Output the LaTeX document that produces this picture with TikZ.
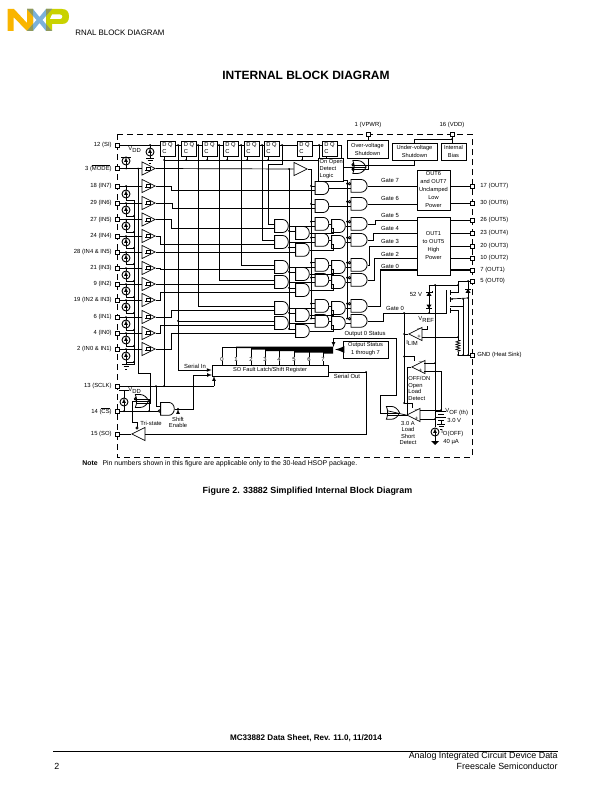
\documentclass[tikz,border=0pt]{standalone}
\usepackage{fontspec}
\setmainfont{Liberation Sans}
\usetikzlibrary{shapes.geometric,shapes.gates.logic.US,decorations.pathmorphing}
\definecolor{nxpyellow}{HTML}{F9B500}
\definecolor{nxpblue}{HTML}{7BB1DB}
\definecolor{nxpgreen}{HTML}{C9D200}
\definecolor{nxpolive}{HTML}{8F9A5A}
\tikzset{
    tiny5/.style={font=\fontsize{5.9}{8}\selectfont,inner sep=0pt},
    pin/.style={draw,fill=white,rectangle,minimum size=4pt,inner sep=0pt},
    block/.style={draw,rectangle,align=center,font=\fontsize{5.7}{8}\selectfont,inner sep=0pt},
    flop/.style={draw,rectangle,minimum size=15pt,inner sep=0pt,align=left,font=\fontsize{5.8}{7}\selectfont},
    andg/.style={and gate US,draw,logic gate inputs=nn,logic gate input sep=4.3pt,logic gate inverted radius=1.2pt,inner sep=0pt,line width=.8pt,xscale=.85,transform shape},
    andb/.style={andg,logic gate inputs=in,xscale=1.18},
    org/.style={or gate US,draw,shape border rotate=180,logic gate input sep=4.3pt,logic gate inverted radius=1.2pt,inner sep=0pt,line width=.8pt,xscale=.75,transform shape},
    isrc/.style={circle,draw,line width=.9pt,minimum size=8pt,inner sep=0pt,fill=white,
        path picture={\draw[-latex,line width=.7pt] (path picture bounding box.south) -- (path picture bounding box.north);}},
    tribuf/.style={isosceles triangle,isosceles triangle stretches,draw,minimum height=13pt,minimum width=13pt,inner sep=0pt,anchor=apex,line width=.7pt},
    inbuf/.style={tribuf,
        path picture={\draw[line width=.4pt] ([shift={(-3.5,1.5)}]path picture bounding box.center) -- ++(5.5,0) -- ++(0,-3) -- ++(-4,0) -- ++(0,3);}},
    cmpr/.style={tribuf,shape border rotate=180},
    diode/.style={isosceles triangle,isosceles triangle stretches,fill,minimum height=4pt,minimum width=5pt,inner sep=0pt},
    gnd/.pic={\draw (-4,0) -- (4,0); \draw (-2.5,2.5) -- (2.5,2.5); \draw (-1,5) -- (1,5);}
}
\begin{document}
\begin{tikzpicture}[x=1pt,y=-1pt,line width=.7pt]
    \useasboundingbox (0,0) rectangle (612,792);
    % logo and page header
    \fill[nxpyellow] (7.5,9) -- (14,9) -- (27,23) -- (27,9) -- (33,9) -- (33,31) -- (27,31) -- (13.5,17) -- (13.5,31) -- (7.5,31) -- cycle;
    \fill[nxpgreen] (46,9) -- (62,9) .. controls (67,9) and (69,12) .. (69,16.5) .. controls (69,21) and (67,24) .. (62,24) -- (52,24) -- (52,31) -- (46,31) -- cycle;
    \fill[white] (52,14.5) -- (60,14.5) .. controls (63,14.5) and (63,19) .. (60,19) -- (50,19) -- cycle;
    \fill[nxpblue] (27,9) -- (33,9) -- (39.5,17) -- (46,9) -- (52,9) -- (42.5,20) -- (52,31) -- (46,31) -- (39.5,23) -- (33,31) -- (27,31) -- (36.5,20) -- cycle;
    \fill[nxpolive] (27,9) -- (33,9) -- (33,31) -- (27,31) -- (33,24) -- (33,16) -- cycle;
    \fill[nxpolive] (46,9) -- (52,9) -- (46,16) -- (46,24) -- (52,31) -- (46,31) -- cycle;
    \node[anchor=west,inner sep=0pt,font=\fontsize{7.9}{9}\selectfont] (header) at (75,33) {RNAL BLOCK DIAGRAM};
    \node[inner sep=0pt,font=\fontsize{12}{14}\bfseries\selectfont] (title) at (306,75) {INTERNAL BLOCK DIAGRAM};
    % device outline
    \draw[dash pattern=on 6pt off 4pt] (117,134) rectangle (472,457);
    % input pins and buffers
    \foreach \n/\py/\txt in {SI/145/12 (SI),MODE/168.5/3 ($\overline{\mbox{MODE}}$),IN7/186/18 (IN7),IN6/203/29 (IN6),IN5/219.5/27 (IN5),IN4/236/24 (IN4),NB/252/28 (IN4 \& IN5),IN3/268/21 (IN3),IN2/284/9 (IN2),NC/300/19 (IN2 \& IN3),IN1/317/6 (IN1),IN0/333/4 (IN0),ND/349/2 (IN0 \& IN1),CLK/386/13 (SCLK),CS/411/14 ($\overline{\mbox{CS}}$),SO/434/15 (SO)} {
        \node[tiny5,anchor=east] (lbl\n) at (112,\py) {\txt};
        \node[pin] (pin\n) at (117,\py) {};
    }
    \foreach \n in {MODE,IN7,IN6,IN5,IN4,NB,IN3,IN2,NC,IN1,IN0,ND} {
        \node[inbuf] (buf\n) at (156,0 |- pin\n) {};
        \draw (pin\n) -- (buf\n.lower side);
    }
    % pull-down sources and their return
    \coordinate (rtop) at (134,200);
    \coordinate (rbot) at (134,364);
    \coordinate (gndin) at (126,364);
    \draw (rtop) -- (rbot) -- (gndin);
    \foreach \n/\sy in {IN7/194,IN6/210,IN5/226,IN4/242,NB/258,IN3/275,IN2/291,NC/307,IN1/324,IN0/340,ND/356} {
        \node[isrc] (s\n) at (126,\sy) {};
        \draw (pin\n -| s\n) -- (s\n.north);
        \fill (pin\n -| s\n) circle (1pt);
        \draw (s\n.south) -- ++(0,1.5) -- ++(8,0);
    }
    \foreach \n in {IN6,IN5,IN4,NB,IN3,IN2,NC,IN1,IN0,ND} {
        \fill (s\n.south) ++(8,1.5) circle (1pt);
    }
    \draw (sND.south) -- (gndin);
    \pic at (gndin) {gnd};
    % pull-up on the mode input
    \node[isrc] (smode) at (126,161) {};
    \draw (121,157) -- (131,157);
    \draw (smode.north) -- (126,157);
    \draw (smode.south) -- (pinMODE -| smode);
    \fill (pinMODE -| smode) circle (1pt);
    \node[tiny5,anchor=west] (vdda) at (128,149.5) {V\raisebox{-1.2pt}{DD}};
    % source on the serial input
    \node[isrc] (ssi) at (150,152) {};
    \draw (pinSI -| ssi) -- (ssi.north) (ssi.south) -- (150,158);
    \fill (pinSI -| ssi) circle (1pt);
    \pic at (150,158) {gnd};
    % shift register flip-flops
    \foreach \n/\fx in {1/167.5,2/189,3/209.5,4/230.5,5/251.5,6/271.5,7/304.5,8/329.5} {
        \node[flop] (ff\n) at (\fx,148.5) {D Q\\C};
    }
    \draw (pinSI) -- (ff1.west |- pinSI);
    \foreach \a/\b in {1/2,2/3,3/4,4/5,5/6,6/7,7/8} {
        \draw (ff\a.east |- pinSI) -- (ff\b.west |- pinSI);
    }
    \foreach \n/\qx in {1/178,2/198,3/219,4/241,5/262,6/282,7/319} {
        \coordinate (q\n) at (\qx,145);
        \fill (q\n) circle (1pt);
    }
    % clock rail
    \foreach \n/\cx in {1/164,2/186,3/207,4/227,5/247,6/268,7/302} {
        \coordinate (ck\n) at (\cx,160);
        \draw (ck\n) -- (ck\n |- ff\n.south);
        \fill (ck\n) circle (1pt);
    }
    % gate columns
    \foreach \n/\gy in {1/226,2/242,3/267,4/282,5/308,6/323} {
        \node[andg] (a\n) at (281,\gy) {};
        \node[andg] (d\n) at (338,\gy) {};
    }
    \foreach \n/\gy in {1/233,2/249.85,3/274,4/290,5/315,6/331} {
        \node[andg] (b\n) at (302,\gy) {};
    }
    \foreach \n/\gy in {1/188,2/206,3/223.85,4/239.85,5/264.85,6/279.85,7/305.85,8/320.85} {
        \node[andg] (c\n) at (321.5,\gy) {};
    }
    \foreach \n/\gy in {1/185.85,2/203.85,3/223.85,4/239.85,5/264.85,6/279.85,7/305.85,8/320.85} {
        \node[andb] (e\n) at (358.5,\gy) {};
    }
    % open load detect logic
    \node[block,minimum width=25pt,minimum height=23pt,align=left,font=\fontsize{5.7}{7}\selectfont] (detect) at (330.5,169.5) {~On Open\\~Detect\\~Logic};
    \draw (ck1) -- (detect.west |- ck1);
    \draw (326,156) -- (326,158);
    \draw (q7) -- (q7 |- detect.north);
    \draw (ff8.east |- pinSI) -- (341,145) -- (341,158);
    \coordinate (gbus) at (347,180);
    \draw (gbus -| detect.east) -- (gbus) -- (gbus |- e8.input 1);
    % mode buffer and its rails
    \node[tribuf] (bufdet) at (308,169) {};
    \draw (bufMODE.apex) -- (bufdet.lower side);
    \coordinate (modea) at (289,169);
    \coordinate (modeb) at (311,169);
    \fill (modea) circle (1pt);
    \draw (modea) -- (modea |- b6.input 1);
    \draw (bufdet.apex) -- (modeb) -- (modeb |- c8.input 1);
    \foreach \n in {1,...,6} {
        \draw (modea |- b\n.input 1) -- (b\n.input 1);
        \fill (modea |- b\n.input 1) circle (1pt);
    }
    \foreach \n in {1,...,8} {
        \draw (modeb |- c\n.input 1) -- (c\n.input 1);
        \fill (modeb |- c\n.input 1) circle (1pt);
        \draw (gbus |- e\n.input 1) -- (e\n.input 1);
        \fill (gbus |- e\n.input 1) circle (1pt);
    }
    % register outputs into the first column
    \draw (q2) |- (a5.input 1);
    \draw (q3) |- (a4.input 1);
    \draw (q4) |- (a3.input 1);
    \draw (q5) |- (a2.input 1);
    \draw (q6) |- (268,164) |- (a1.input 1);
    \draw (q1) |- (a6.input 1);
    \fill (q1 |- a6.input 1) circle (1pt);
    % buffered inputs
    \draw (bufIN7.apex) -- ++(15,0) |- (c1.input 2);
    \draw (bufIN6.apex) -- ++(16,0) |- (c2.input 2);
    \draw (bufIN5.apex) -- ++(15,0) |- (a1.input 2);
    \draw (bufIN4.apex) -- ++(4,0) |- (a2.input 2);
    \draw (bufNB.apex) -- (b2.input 2);
    \draw (bufIN3.apex) -- ++(4,0) |- (a3.input 2);
    \draw (bufIN2.apex) -- ++(4,0) |- (a4.input 2);
    \draw (bufNC.apex) -- ++(4,0) |- (b4.input 2);
    \draw (bufIN1.apex) -- ++(15,0) |- (a5.input 2);
    \draw (bufIN0.apex) -- ++(4,0) |- (a6.input 2);
    \draw (bufND.apex) -- ++(15,0) |- (b6.input 2);
    % column to column
    \foreach \n/\m in {1/3,2/4,3/5,4/6,5/7,6/8} {
        \draw (a\n.output) -- (c\m.input 2);
        \draw (c\m.output) -- (d\n.input 1);
        \draw (b\n.output) -- ++(23.5,0) |- (d\n.input 2);
        \draw (d\n.output) -- (e\m.input 2);
    }
    \draw (c1.output) -- (e1.input 2);
    \draw (c2.output) -- (e2.input 2);
    % supply side blocks
    \node[pin] (pinVP) at (368,134) {};
    \node[pin] (pinVD) at (452,134) {};
    \node[tiny5] (lblVP) at (368,125) {1 (VPWR)};
    \node[tiny5] (lblVD) at (452,125) {16 (VDD)};
    \node[block,minimum width=41pt,minimum height=18pt] (ovs) at (367.5,149) {Over-voltage\\Shutdown};
    \node[block,minimum width=45pt,minimum height=17pt] (uvs) at (414.5,151.5) {Under-voltage\\Shutdown};
    \node[block,minimum width=25pt,minimum height=17pt] (ibias) at (453.5,151.5) {Internal\\Bias};
    \draw (pinVP) -- (ovs.north -| pinVP);
    \draw (pinVD) -- (ibias.north -| pinVD);
    \coordinate (vddj) at (452,139);
    \fill (vddj) circle (1pt);
    \draw (vddj) -| (uvs.north);
    \node[org,logic gate inputs=ii] (orsd) at (358.5,167) {};
    \draw (ovs.south -| pinVP) |- (orsd.input 2);
    \draw (uvs.south) |- (orsd.input 1);
    \draw (orsd.output) -- (orsd.output -| detect.east);
    % power stages
    \node[block,minimum width=33pt,minimum height=40pt] (boxlow) at (433.5,190) {OUT6\\and OUT7\\Unclamped\\Low\\Power};
    \node[block,minimum width=33pt,minimum height=58pt] (boxhigh) at (433.5,246) {OUT1\\to OUT5\\High\\Power};
    \foreach \n/\py/\txt in {7/185.85/17 (OUT7),6/203/30 (OUT6),5/220/26 (OUT5),4/233/23 (OUT4),3/246/20 (OUT3),2/258/10 (OUT2),1/270/7 (OUT1),0/281/5 (OUT0)} {
        \node[pin] (pout\n) at (472,\py) {};
        \node[tiny5,anchor=west] (lout\n) at (480,\py) {\txt};
    }
    \draw (boxlow.east |- pout7) -- (pout7);
    \draw (boxlow.east |- pout6) -- (pout6);
    \foreach \n in {5,4,3,2} {
        \draw (boxhigh.east |- pout\n) -- (pout\n);
    }
    \draw[line width=1.2pt] (boxhigh.east |- pout1) -- (pout1);
    % gate drive lines
    \draw (e1.output) -- (boxlow.west |- e1.output);
    \draw (e2.output) -- (boxlow.west |- e2.output);
    \draw (e3.output) -| (375,220) -- (boxhigh.west |- pout5);
    \draw (e4.output) -| (373,233) -- (boxhigh.west |- pout4);
    \draw (e5.output) -| (369,246) -- (boxhigh.west |- pout3);
    \draw (e6.output) -| (374,258) -- (boxhigh.west |- pout2);
    \draw (e7.output) -| (380,270);
    \draw[line width=1.2pt] (380,270) -- (boxhigh.west |- pout1);
    \node[tiny5] (g7) at (390,180.5) {Gate 7};
    \node[tiny5] (g6) at (390,198) {Gate 6};
    \node[tiny5] (g5) at (390,215) {Gate 5};
    \node[tiny5] (g4) at (390,228) {Gate 4};
    \node[tiny5] (g3) at (390,241.5) {Gate 3};
    \node[tiny5] (g2) at (390,254.5) {Gate 2};
    \node[tiny5] (g0) at (390,266.5) {Gate 0};
    \node[tiny5] (g0b) at (395,308.5) {Gate 0};
    % output 0 switch
    \coordinate (gdrv) at (446,313);
    \coordinate (gj) at (404,313);
    \draw (e8.output) -| (383,313) -- (gdrv) -- (446,290);
    \fill (gj) circle (1pt);
    \draw (450,290) -- (450,295) (450,297) -- (450,302) (450,308) -- (450,313);
    \coordinate (drn) at (458,285);
    \coordinate (bulk) at (468,298);
    \draw (428.5,285) -- (drn) -- (458,281) -- (pout0);
    \draw (450,292.5) -- (458,292.5) -- (drn);
    \fill (drn) circle (1pt);
    \fill (435,285) circle (1pt);
    \draw (450,299) -- (bulk);
    \draw (450,306) -- (463,306);
    \draw (450,310) -- (458,310) -- (458,340);
    \fill (452,299) circle (1pt) (463,299) circle (1pt) (bulk) circle (1pt);
    \coordinate (sink) at (468,355);
    \draw (463,299) -- (463,355);
    \draw (468,281) -- (sink);
    \fill (468,281) circle (1pt);
    \node[pin] (pinGND) at (472,355) {};
    \node[tiny5,anchor=west] (lblGND) at (477,354.5) {GND (Heat Sink)};
    \draw (458,355) -- (pinGND);
    \fill (458,355) circle (1pt) (463,355) circle (1pt) (sink) circle (1pt);
    % sense resistor
    \draw[decorate,decoration={zigzag,segment length=2.5pt,amplitude=2pt}] (458,340) -- (458,352);
    \draw (458,352) -- (458,355);
    % clamp diodes
    \node[diode,shape border rotate=90] (dzen) at (429,294.5) {};
    \node[diode,shape border rotate=270] (drev) at (429,306) {};
    \node[diode,shape border rotate=90] (dbody) at (468,291.5) {};
    \draw (429,285) -- (429,313);
    \fill (429,313) circle (1pt);
    \draw (426,293) -- (426,292) -- (432,292) -- (432,291);
    \draw (426,308) -- (432,308);
    \draw (465,289) -- (471,289);
    \node[tiny5] (lbl52) at (416,294) {52 V};
    % current limit comparator
    \node[cmpr] (cmpi) at (408,334) {};
    \draw (gj) -- (404,403);
    \fill (404,334) circle (1pt);
    \draw (404,334) -- (cmpi.apex);
    \draw (422,329) -- (427,329) -- (427,326);
    \draw (422,337) -- (458,337);
    \fill (458,337) circle (1pt);
    \node[tiny5,anchor=west] (vref) at (418,319.5) {V\raisebox{-1.2pt}{REF}};
    \node[tiny5,anchor=west] (ilim) at (406,343) {I\raisebox{-1.2pt}{LIM}};
    \node[tiny5] (imin) at (419,329.5) {--};
    \node[tiny5] (iplu) at (419,337) {+};
    % open load comparator
    \node[cmpr] (cmpo) at (411,367) {};
    \draw (404,356.5) -- (414,356.5) -- (414,361);
    \fill (404,356.5) circle (1pt);
    \draw (435,285) -- (435,427);
    \draw (424,363) -- (435,363);
    \fill (435,363) circle (1pt);
    \draw (424,371) -- (441,371) -- (441,411);
    \node[tiny5] (omin) at (420.5,363) {--};
    \node[tiny5] (oplu) at (420.5,371) {+};
    \node[tiny5,anchor=north west,align=left,font=\fontsize{5.8}{6.5}\selectfont] (lblo) at (408,376) {OFF/ON\\Open\\Load\\Detect};
    % short load comparator
    \node[cmpr] (cmps) at (406,415) {};
    \draw (404,403) -- (412,403) -- (412,408);
    \fill (404,403) circle (1pt);
    \draw (420,410) -- (441,410);
    \fill (441,410) circle (1pt);
    \draw (420,419) -- (435,419);
    \fill (435,419) circle (1pt);
    \node[tiny5] (smin) at (416.5,410.5) {--};
    \node[tiny5] (splu) at (416.5,418.5) {+};
    \node[tiny5,align=center,font=\fontsize{5.8}{6.5}\selectfont] (lbls) at (408,433) {3.0 A\\Load\\Short\\Detect};
    % fault gate and output 0 status
    \node[org,logic gate inputs=nn] (orf) at (392,412.85) {};
    \draw (cmpo.apex) -- (407,367) |- (orf.input 2);
    \draw (cmps.apex) -- (orf.input 1);
    \draw (orf.output) -| (380,395) -- (396,395) -- (396,338) -- (333.5,338);
    \draw[-latex] (333.5,338) -- (333.5,347);
    \node[tiny5] (lbl0st) at (365,334) {Output 0 Status};
    % threshold reference and off state source
    \draw (436,411) -- (446,411) (438,414) -- (444,414) (436,417) -- (446,417) (438,420) -- (444,420);
    \draw (441,420) -- (441,424);
    \pic at (441,424) {gnd};
    \node[tiny5,anchor=west] (vof) at (445,412) {V\raisebox{-1.2pt}{OF (th)}};
    \node[tiny5,anchor=west] (v30) at (447,420.5) {3.0 V};
    \node[isrc] (sof) at (435,432) {};
    \draw (sof.south) -- (435,442);
    \fill (431,441) -- (439,441) -- (435,445) -- cycle;
    \node[tiny5,anchor=west] (iof) at (441,433) {I\raisebox{-1.2pt}{O(OFF)}};
    \node[tiny5,anchor=west] (i40) at (443,442) {40 µA};
    % fault register and status bus
    \node[block,minimum width=116pt,minimum height=11pt] (sofr) at (270,370.5) {SO Fault Latch/Shift Register};
    \foreach \i/\bx in {0/222,1/236,2/251,3/265,4/279,5/294,6/309,7/323} {
        \node[tiny5] (num\i) at (\bx,359) {\i};
        \draw (\bx,347) -- (num\i.north);
        \draw (num\i.south) -- (num\i.south |- sofr.north);
    }
    \draw (222,347) -- (236,347);
    \fill (236,346.6) -- (333,346.6) -- (333,353.5) -- (323,353.5) -- (323,352.5) -- (294,352.5) -- (294,351) -- (265,351) -- (265,349.5) -- (251,349.5) -- (251,348) -- (236,348) -- cycle;
    \node[block,minimum width=45pt,minimum height=17pt] (status) at (365.5,349.5) {Output Status\\1 through 7};
    \draw[line width=2.2pt,-latex] (status.west) -- (335,349.5);
    \node[tiny5] (lblsin) at (195,366) {Serial In};
    \node[tiny5] (lblsout) at (347,376.5) {Serial Out};
    \coordinate (sout) at (366,372);
    \draw (q1) -- (178,370);
    \draw[-latex] (178,370) -- (sofr.west |- 0,370);
    \draw (sofr.east |- sout) -- (sout);
    \fill (sout) circle (1pt);
    % clock, chip select and tri-state
    \coordinate (sclkj) at (214,386);
    \draw (pinCLK) -- (sclkj);
    \draw[-latex] (sclkj) -- (214,376);
    \draw (ck1) -- (pinCLK -| ck1);
    \fill (pinCLK -| ck1) circle (1pt);
    \node[isrc] (scs) at (124,402) {};
    \draw (119,390) -- (129,390);
    \draw (124,390) -- (scs.north) (scs.south) -- (pinCS -| scs);
    \fill (pinCS -| scs) circle (1pt);
    \node[tiny5,anchor=west] (vddb) at (128,390.5) {V\raisebox{-1.2pt}{DD}};
    \node[org,logic gate inputs=in] (orcs) at (141,401) {};
    \node[andg,logic gate inputs=ni] (andse) at (167,408.85) {};
    \draw (pinCS) -- (andse.input 2);
    \coordinate (csj) at (149,411);
    \fill (csj) circle (1pt);
    \draw (csj) |- (orcs.input 1);
    \coordinate (clkj) at (156,386);
    \fill (clkj) circle (1pt);
    \draw (clkj) |- (andse.input 1);
    \draw (138,168.5) -- (138,373) -- (150,373) |- (orcs.input 2);
    \fill (138,168.5) circle (1pt);
    \draw (andse.output) -| (193,375);
    \draw[-latex] (193,375) -- (212,375);
    \fill (178,408.85) circle (1pt);
    \draw[-latex] (178,414) -- (178,409);
    \node[tiny5,align=center,font=\fontsize{5.8}{6.5}\selectfont] (lblse) at (178,422.5) {Shift\\Enable};
    \node[tribuf,shape border rotate=180] (bufso) at (131,434) {};
    \draw (pinSO) -- (bufso.apex);
    \draw (bufso.lower side) -- (366,434) -- (sout);
    \draw (orcs.output) -- (132,401) -- (132,422) -- (137,422) -- (137,427);
    \draw[fill=white] (137,428) circle (1.2pt);
    \node[tiny5] (lbltri) at (151,423) {Tri-state};
    % page text
    \node[anchor=west,inner sep=0pt,font=\fontsize{6.9}{8}\selectfont] (note) at (82,463.5) {\textbf{Note}\hspace{3pt} Pin numbers shown in this figure are applicable only to the 30-lead HSOP package.};
    \node[inner sep=0pt,font=\fontsize{8.9}{10}\bfseries\selectfont] (caption) at (307.5,491) {Figure 2. 33882 Simplified Internal Block Diagram};
    \node[inner sep=0pt,font=\fontsize{8.1}{10}\bfseries\selectfont] (sheet) at (306,738) {MC33882 Data Sheet, Rev. 11.0, 11/2014};
    \coordinate (rulel) at (53,751);
    \coordinate (ruler) at (558,751);
    \draw[line width=.8pt] (rulel) -- (ruler);
    \node[anchor=east,inner sep=0pt,font=\fontsize{8.9}{10}\selectfont] (foota) at (558,756.5) {Analog Integrated Circuit Device Data};
    \node[anchor=east,inner sep=0pt,font=\fontsize{8.9}{10}\selectfont] (footb) at (558,766.5) {Freescale Semiconductor};
    \node[anchor=west,inner sep=0pt,font=\fontsize{8.9}{10}\selectfont] (pageno) at (54,766) {2};
\end{tikzpicture}
\end{document}
